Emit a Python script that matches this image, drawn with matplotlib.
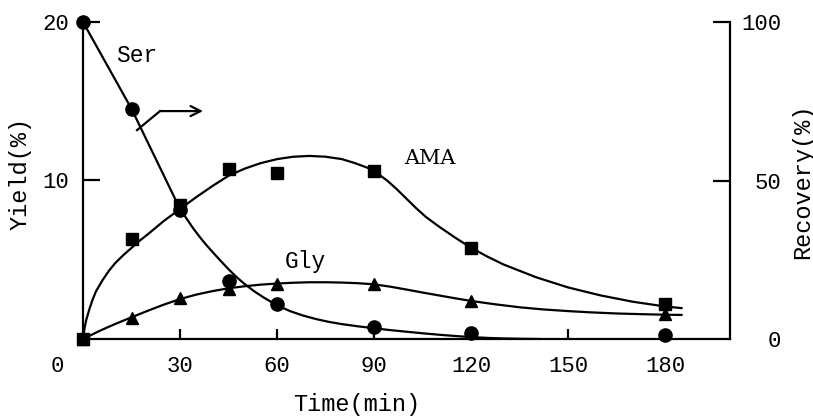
import matplotlib
matplotlib.use("Agg")
import matplotlib.pyplot as plt

# measured points
t_pts = [0, 15, 30, 45, 60, 90, 120, 180]
ama = [0, 6.3, 8.45, 10.7, 10.5, 10.6, 5.75, 2.2]          # yield %
gly = [0, 1.3, 2.6, 3.15, 3.5, 3.5, 2.4, 1.6]              # yield %
ser = [100, 72.6, 40.7, 18.3, 11.0, 3.8, 1.9, 1.3]         # recovery %

# hand drawn trend curves
ama_curve_t = [0, 0.5, 1, 2, 3, 4, 6, 8, 10, 12.5, 15, 17.5, 20, 25, 30, 35, 40, 45, 50,
               55, 60, 65, 70, 75, 80, 84, 88, 91, 94, 97, 100, 103, 106, 110, 115, 120,
               125, 130, 140, 150, 160, 170, 180, 185]
ama_curve = [0, 0.7, 1.2, 1.9, 2.5, 3.0, 3.7, 4.3, 4.8, 5.3, 5.75, 6.2, 6.6, 7.45, 8.2,
             8.95, 9.65, 10.3, 10.75, 11.1, 11.35, 11.5, 11.55, 11.5, 11.35, 11.1, 10.8,
             10.45, 10.0, 9.45, 8.85, 8.25, 7.7, 7.1, 6.4, 5.75, 5.2, 4.7, 3.9, 3.25, 2.75,
             2.35, 2.05, 1.95]
gly_curve_t = [0, 2.5, 5, 7.5, 10, 15, 20, 25, 30, 35, 40, 45, 50, 55, 60, 65, 70, 75, 80,
               85, 90, 95, 100, 105, 110, 115, 120, 127, 135, 142, 150, 157, 165, 172, 180, 185]
gly_curve = [0, 0.25, 0.5, 0.73, 0.95, 1.37, 1.78, 2.17, 2.52, 2.8, 3.02, 3.2, 3.33, 3.43,
             3.5, 3.55, 3.58, 3.58, 3.56, 3.52, 3.45, 3.3, 3.12, 2.93, 2.75, 2.57, 2.4, 2.2,
             2.0, 1.87, 1.76, 1.68, 1.61, 1.57, 1.53, 1.52]
ser_curve_t = [0, 15, 30, 32, 34, 36, 38, 40, 42.5, 45, 47.5, 50, 53, 56, 60, 64, 68, 72,
               76, 80, 85, 90, 95, 100, 105, 110, 115, 120, 125, 130, 135, 141]
ser_curve = [100, 72.6, 41, 38, 35, 32.3, 29.8, 27.5, 24.7, 22, 19.5, 17.3, 15, 13, 10.6,
             8.8, 7.4, 6.3, 5.4, 4.7, 4.0, 3.4, 2.8, 2.3, 1.8, 1.35, 0.95, 0.6, 0.35, 0.18,
             0.07, 0]

arrow_t = [16.7, 23.8, 37.1]
arrow_r = [65.9, 71.9, 71.9]

x_ticks = [30, 60, 90, 120, 150, 180]
y_ticks = [10, 20]
r_ticks = [0, 50, 100]

mono = "Liberation Mono"
plt.rcParams["font.family"] = mono
plt.rcParams["lines.solid_joinstyle"] = "round"

fig = plt.figure(figsize=(8.13, 4.17), dpi=100)
ax = fig.add_axes([83 / 813, 78 / 417, 647 / 813, 317 / 417])
ax2 = ax.twinx()

lw = 1.6
ax.plot(ama_curve_t, ama_curve, color="black", lw=lw)
ax.plot(gly_curve_t, gly_curve, color="black", lw=lw)
ax.plot(t_pts, ama, ls="none", marker="s", ms=8.5, color="black", clip_on=False)
ax.plot(t_pts, gly, ls="none", marker="^", ms=8.5, color="black", clip_on=False)

ax2.plot(ser_curve_t, ser_curve, color="black", lw=lw)
ax2.plot(t_pts, ser, ls="none", marker="o", ms=9.5, color="black", clip_on=False)
ax2.plot(arrow_t[:2], arrow_r[:2], color="black", lw=lw)
ax2.annotate("", xy=(arrow_t[2], arrow_r[2]), xytext=(arrow_t[1], arrow_r[1]),
             arrowprops=dict(arrowstyle="->", color="black", lw=lw,
                             mutation_scale=18, shrinkA=0, shrinkB=0))

ax.set_xlim(0, 200)
ax.set_ylim(0, 20)
ax2.set_ylim(0, 100)

for a in (ax, ax2):
    a.spines["top"].set_visible(False)
    for s in a.spines.values():
        s.set_linewidth(1.6)
ax2.spines["left"].set_visible(False)
ax2.spines["bottom"].set_visible(False)
ax.spines["right"].set_visible(False)

ax.set_xticks(x_ticks)
ax.set_xticklabels([str(v) for v in x_ticks])
ax.set_yticks(y_ticks)
ax.set_yticklabels([str(v) for v in y_ticks])
ax2.set_yticks(r_ticks)
ax2.set_yticklabels([str(v) for v in r_ticks])

ax.tick_params(axis="x", direction="in", length=7, width=1.6, pad=12, labelsize=16)
ax.tick_params(axis="y", direction="in", length=12, width=1.6, pad=10, labelsize=16)
ax2.tick_params(axis="y", direction="in", length=12, width=1.6, pad=37, labelsize=16)
for lab in ax2.get_yticklabels():
    lab.set_horizontalalignment("right")
ax2.yaxis.get_major_ticks()[0].tick2line.set_visible(False)

ax.annotate("0", xy=(0, 0), xytext=(-26, -28), textcoords="offset pixels",
            ha="center", va="center", fontsize=16)

ax.text(16.7, 17.9, "Ser", ha="center", va="center", fontsize=16.5)
ax.text(68.7, 4.86, "Gly", ha="center", va="center", fontsize=16.5)
ax.text(107.3, 11.4, "AMA", ha="center", va="center", fontsize=15, family="DejaVu Serif")

fig.text(20 / 813, 1 - 173 / 417, "Yield(%)", rotation=90, ha="center", va="center", fontsize=17)
fig.text(803 / 813, 1 - 181 / 417, "Recovery(%)", rotation=90, ha="center", va="center", fontsize=17)
fig.text(357 / 813, 1 - 405 / 417, "Time(min)", ha="center", va="center", fontsize=17)

fig.savefig("out.png", dpi=100)
